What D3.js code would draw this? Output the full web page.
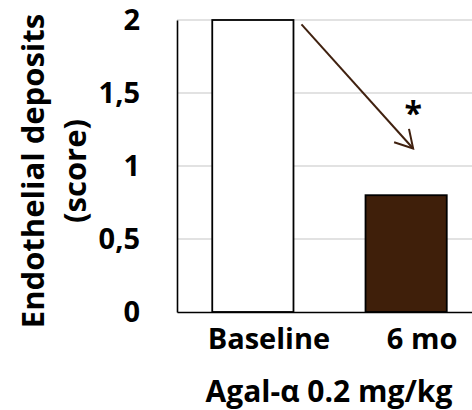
<!DOCTYPE html>
<html>
<head>
<meta charset="utf-8">
<script src="https://cdn.jsdelivr.net/npm/d3@7"></script>
<style>
  html, body { margin: 0; padding: 0; background: #ffffff; }
  svg { display: block; font-family: "Open Sans", "Noto Sans", sans-serif; }
</style>
</head>
<body>
<svg id="chart" width="472" height="410"></svg>
<script>
const categories = ["Baseline", "6 mo"];
const values = [2, 0.8];
const barColors = ["#ffffff", "#3f1f0a"];
const yTicks = [0, 0.5, 1, 1.5, 2];
const yTickLabels = ["0", "0,5", "1", "1,5", "2"];
const yTitleLines = ["Endothelial deposits", "(score)"];
const xTitle = "Agal-\u03b1 0.2 mg/kg";
const arrowFromValue = 1.97;
const arrowToValue = 1.12;
const starValue = 1.42;
const starText = "*";

const svg = d3.select("#chart");
const x = d3.scaleBand().domain(categories).range([177, 482]).paddingInner(0.47).paddingOuter(0.23);
const y = d3.scaleLinear().domain([0, 2]).range([312, 20]);

// gridlines
svg.append("g").selectAll("line").data(yTicks.filter(d => d > 0)).join("line")
  .attr("x1", 177).attr("x2", 482)
  .attr("y1", d => y(d)).attr("y2", d => y(d))
  .attr("stroke", "#d9d9d9").attr("stroke-width", 1.5);

// bars
svg.append("g").selectAll("rect").data(categories).join("rect")
  .attr("x", d => x(d)).attr("width", x.bandwidth())
  .attr("y", (d, i) => y(values[i])).attr("height", (d, i) => y(0) - y(values[i]))
  .attr("fill", (d, i) => barColors[i])
  .attr("stroke", "#000").attr("stroke-width", 1.8);

// y axis
const yAxis = d3.axisLeft(y).tickValues(yTicks).tickFormat((d, i) => yTickLabels[i]).tickSize(0).tickPadding(37);
const gy = svg.append("g").attr("transform", "translate(177,0)").call(yAxis);
gy.select(".domain").attr("stroke", "#000").attr("stroke-width", 1.6);
gy.selectAll("text").attr("font-size", 29).attr("font-weight", "bold").attr("fill", "#000")
  .attr("font-family", "'Open Sans', sans-serif");

// x axis
const xAxis = d3.axisBottom(x).tickSize(0).tickPadding(16);
const gx = svg.append("g").attr("transform", "translate(0,312)").call(xAxis);
gx.select(".domain").attr("stroke", "#000").attr("stroke-width", 1.6);
gx.selectAll("text").attr("font-size", 29).attr("font-weight", "bold").attr("fill", "#000")
  .attr("font-family", "'Open Sans', sans-serif").attr("dx", 16);

// x title
svg.append("text").attr("x", 329).attr("y", 402).attr("text-anchor", "middle")
  .attr("font-size", 30).attr("font-weight", "bold").attr("fill", "#000").text(xTitle);

// y title
const yt = svg.append("text").attr("transform", "translate(44,171) rotate(-90)")
  .attr("text-anchor", "middle").attr("font-size", 31).attr("font-weight", "bold").attr("fill", "#000");
yTitleLines.forEach((t, i) => yt.append("tspan").attr("x", 0).attr("y", i * 42).text(t));

// arrow
const x0 = x("Baseline") + x.bandwidth() + 8;
const y0 = y(arrowFromValue);
const x1 = x("6 mo") + x.bandwidth() / 2 + 7;
const y1 = y(arrowToValue);
const arrowColor = "#40210f";
svg.append("line").attr("x1", x0).attr("y1", y0).attr("x2", x1).attr("y2", y1)
  .attr("stroke", arrowColor).attr("stroke-width", 2);
const ang = Math.atan2(y0 - y1, x0 - x1);
const hl = 20;
const headPts = [ang + Math.PI / 6, ang - Math.PI / 6].map(a => [x1 + hl * Math.cos(a), y1 + hl * Math.sin(a)]);
svg.append("path")
  .attr("d", `M${headPts[0][0]},${headPts[0][1]}L${x1},${y1}L${headPts[1][0]},${headPts[1][1]}`)
  .attr("fill", "none").attr("stroke", arrowColor).attr("stroke-width", 2);

// asterisk
svg.append("text").attr("x", x1).attr("y", y(starValue)).attr("text-anchor", "middle")
  .attr("dominant-baseline", "central").attr("dy", 8)
  .attr("font-size", 32).attr("font-weight", "bold").attr("fill", "#000").text(starText);
</script>
</body>
</html>
